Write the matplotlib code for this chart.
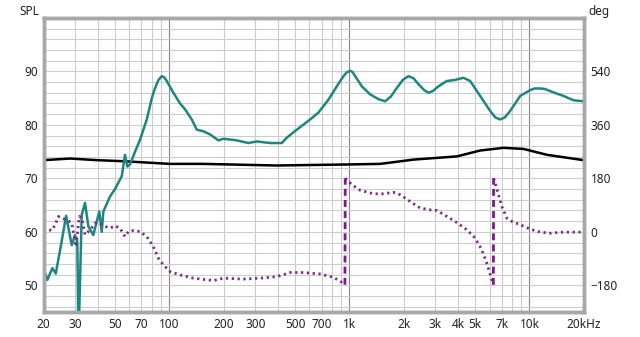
import matplotlib.pyplot as plt
from matplotlib.ticker import FixedLocator, NullFormatter
import numpy as np

# SPL response (teal)
spl_freq = [20, 21, 22.4, 23.4, 25.0, 26.7, 28.7, 29.9, 30.8, 31.3, 32.6, 34.0, 35.5, 37.8,
            40.8, 42.1, 43.0, 46.8, 49.9, 54.4, 56.7, 58.4, 60.5, 64.5, 68.7, 74.9,
            79.9, 83.3, 87.0, 90.7, 93.5, 96.7, 105.2, 109.9, 114.6, 122.2, 133.2, 142, 154.5,
            168.3, 187.2, 199.5, 236.8, 274.6, 305.8, 362.6, 421, 448.8, 510.3,
            604.9, 672.7, 764.3, 851, 926.1, 965, 1009, 1040, 1076, 1172, 1303, 1450, 1579,
            1700, 1834, 1980, 2126, 2270, 2417, 2600, 2747, 2900, 3122, 3476, 3864, 4298,
            4683, 5322, 6049, 6450, 6874, 7300, 7813, 8879, 10090, 10700, 11470, 12200,
            13030, 15450, 17560, 19950]
spl_db = [53.2, 51.0, 53.2, 52.2, 57.5, 63.0, 57.5, 59.4, 58.2, 40.0, 63.2, 65.4, 61.0, 59.4,
          63.8, 60.0, 63.8, 66.6, 68.0, 70.4, 74.4, 72.2, 72.6, 75.0, 77.2, 81.0,
          85.0, 86.9, 88.4, 89.1, 88.9, 88.2, 86.0, 85.0, 84.0, 82.9, 81.0, 79.1, 78.8,
          78.2, 77.1, 77.4, 77.1, 76.6, 76.9, 76.6, 76.6, 77.6, 79.1,
          81.0, 82.3, 84.7, 87.2, 89.1, 89.8, 90.1, 89.9, 89.1, 87.2, 85.7, 84.8, 84.4,
          85.3, 86.9, 88.4, 89.1, 88.7, 87.6, 86.5, 86.0, 86.3, 87.2, 88.2, 88.4, 88.8,
          88.2, 85.4, 82.6, 81.4, 81.0, 81.4, 82.6, 85.4, 86.5, 86.8, 86.8, 86.7,
          86.3, 85.4, 84.6, 84.4]

# second response (black)
blk_freq = [20, 28.1, 39.5, 55.5, 100.9, 153.9, 395, 1009, 1481, 2267, 3950, 5322,
            7170, 9260, 12500, 19950]
blk_db = [73.4, 73.7, 73.4, 73.2, 72.7, 72.7, 72.4, 72.6, 72.7, 73.5, 74.1, 75.2,
          75.7, 75.5, 74.4, 73.4]

# phase (purple), wrapped to +-180
ph_freq = [20, 22.2, 23.2, 24.2, 25.2, 26.9, 28.7, 30.3, 31.6, 32.6, 34.0, 36.3, 38.7,
           41.2, 43.9, 46.8, 49.9, 53.2, 56.7, 59.2, 63.1, 68.7, 74.9, 81.5, 86.9,
           92.6, 100.9, 114.6, 135.9, 175.6, 199.5, 257.6, 319, 395, 468, 555, 687,
           815, 926, 944, 948, 987, 1031, 1147, 1359, 1545, 1755, 1913, 2174, 2471,
           2808, 3058, 3476, 3950, 4489, 4990, 5438, 5800, 6180, 6300, 6320, 6447,
           6726, 7022, 7490, 7980, 8879, 10090, 11470, 13030, 15450, 19950]
ph_deg = [12, 4.5, 23.6, 51.7, 46, 40.5, 29, -50, 51.7, 46, -10, 6.8, 29,
          29, 18, 12.4, 20, 12.4, -16, 1, 4.4, 1, -16, -50, -89,
          -111, -134, -145, -156, -164, -156, -159, -156, -151, -137, -137, -142,
          -153, -173, -178, 180, 170, 159, 140, 128, 128, 133, 125, 102, 80,
          74, 72, 52, 31, 7, -21, -61, -106, -162, -178, 180, 164,
          125, 85, 46, 35, 24, 9, -1, -4.6, -1, -1]

x_ticks = [20, 30, 50, 70, 100, 200, 300, 500, 700, 1000, 2000, 3000, 4000, 5000,
           7000, 10000, 20000]
x_labels = ["20", "30", "50", "70", "100", "200", "300", "500", "700", "1k", "2k",
            "3k", "4k", "5k", "7k", "10k", "20kHz"]

plt.rcParams['font.family'] = ['Noto Sans', 'DejaVu Sans']
plt.rcParams['font.size'] = 8.5

fig = plt.figure(figsize=(6.4, 3.37), dpi=100)
ax = fig.add_axes([0.068, 0.074, 0.844, 0.873])
ax2 = ax.twinx()

ax.set_xscale('log')
ax.set_xlim(20, 20000)
ax.set_ylim(45, 100)
ax2.set_ylim(-270, 720)

# grid: light minor lines, darker decade lines
minor_x = [f * 10 ** d for d in range(1, 5) for f in range(1, 10) if 20 <= f * 10 ** d <= 20000]
for f in minor_x:
    col = '#858585' if f in (100, 1000, 10000) else '#cbcbcb'
    ax.axvline(f, color=col, lw=0.8, zorder=0)
for v in np.arange(46, 100, 2):
    ax.axhline(v, color='#cdcdcd', lw=0.8, zorder=0)

ax.plot(blk_freq, blk_db, color='black', lw=1.8, zorder=3)
ax.plot(spl_freq, spl_db, color='#1e8680', lw=1.8, zorder=4, solid_joinstyle='round')

# phase: dotted segments, dashed jumps at wrap points
ph_freq = np.array(ph_freq)
ph_deg = np.array(ph_deg)
jumps = np.where(np.abs(np.diff(ph_deg)) > 180)[0]
starts = [0] + list(jumps + 1)
ends = list(jumps + 1) + [len(ph_deg)]
for s, e in zip(starts, ends):
    ax2.plot(ph_freq[s:e], ph_deg[s:e], color='#7a2a8c', lw=2.0,
             linestyle=(0, (0.8, 1.3)), zorder=2)
for j in jumps:
    ax2.plot(ph_freq[j:j + 2], ph_deg[j:j + 2], color='#7a1a8c', lw=2.0,
             linestyle=(0, (2.5, 1.5)), zorder=2)

ax.xaxis.set_major_locator(FixedLocator(x_ticks))
ax.set_xticklabels(x_labels)
ax.xaxis.set_minor_formatter(NullFormatter())
ax.set_yticks([50, 60, 70, 80, 90])
ax2.set_yticks([-180, 0, 180, 360, 540])
ax.tick_params(which='both', length=0, pad=4, colors='#222222')
ax2.tick_params(which='both', length=0, pad=5, colors='#222222')

for a in (ax, ax2):
    for sp in a.spines.values():
        sp.set_color('#a8a8a8')
        sp.set_linewidth(2.5)

fig.text(0.03, 0.965, "SPL", ha='left', va='center', fontsize=8.5, color='#222222')
fig.text(0.92, 0.965, "deg", ha='left', va='center', fontsize=8.5, color='#222222')

fig.savefig("out.png", dpi=100, facecolor='white')
